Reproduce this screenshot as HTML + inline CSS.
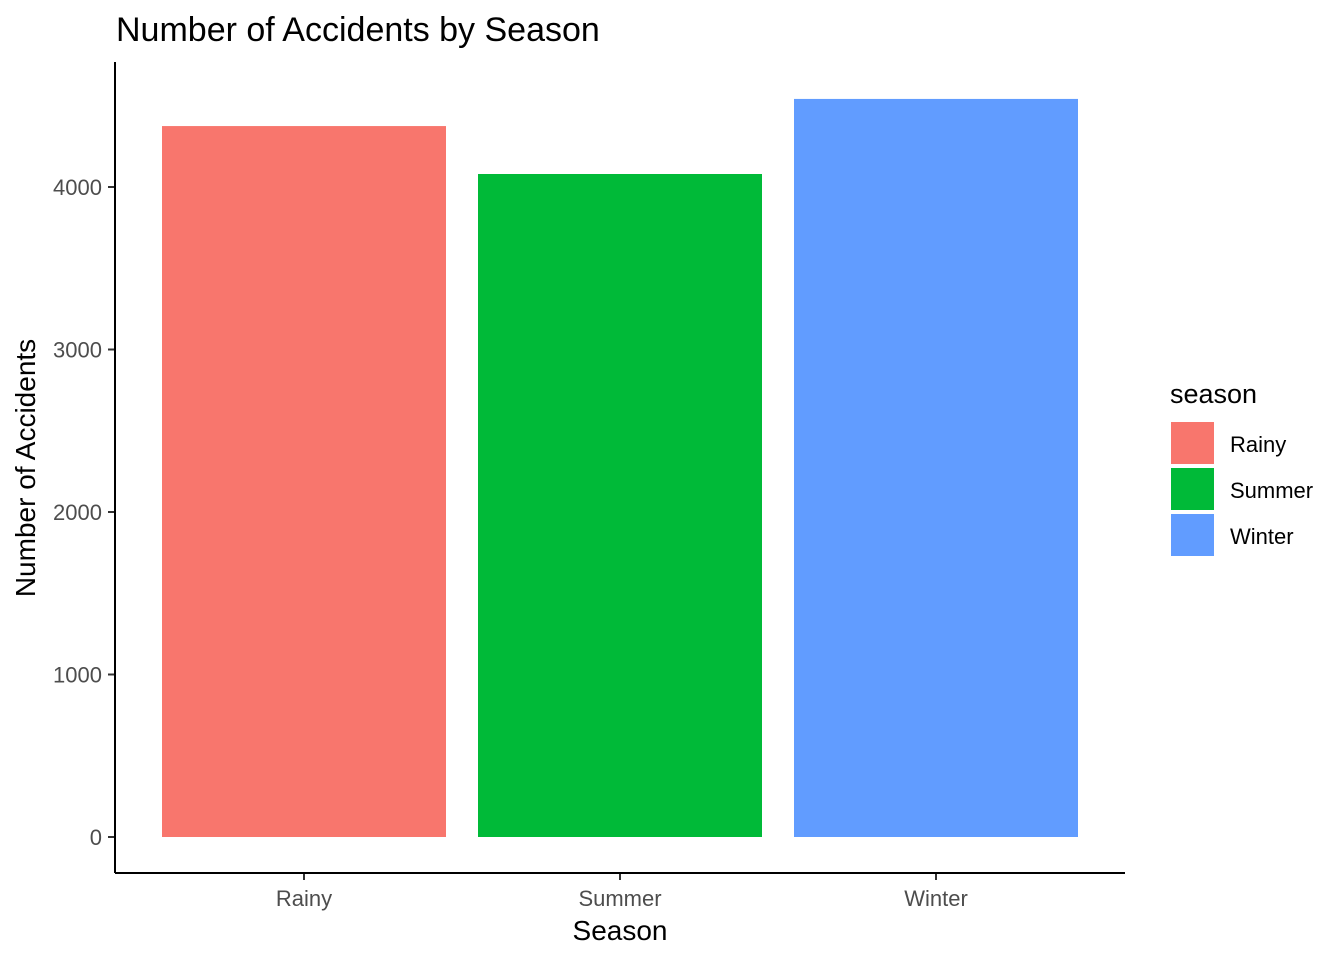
<!DOCTYPE html>
<html><head><meta charset="utf-8"><style>
body{margin:0;background:#fff;}
svg text{font-family:"Liberation Sans",Arial,sans-serif;}
</style></head><body>
<svg id="chart" width="1344" height="960" xmlns="http://www.w3.org/2000/svg">
<rect width="1344" height="960" fill="#fff"/>
<text x="116" y="41" font-size="34" fill="#000">Number of Accidents by Season</text>
<g id="bars"></g>
<g id="yaxis"></g>
<g id="xaxis"></g>
<line x1="115" y1="62" x2="115" y2="873" stroke="#000" stroke-width="2"/>
<line x1="115" y1="873" x2="1125" y2="873" stroke="#000" stroke-width="2"/>
<text x="620" y="940" font-size="28" text-anchor="middle">Season</text>
<text transform="translate(35,468) rotate(-90)" font-size="28" text-anchor="middle">Number of Accidents</text>
<text x="1170" y="403" font-size="27">season</text>
<g id="legend"></g>
</svg>
<script>
const categories=["Rainy","Summer","Winter"];
const values=[4375,4080,4542];
const colors=["#F8766D","#00BA38","#619CFF"];
const yTicks=[0,1000,2000,3000,4000];
const NS="http://www.w3.org/2000/svg";
const y=v=>837-v*0.1625;
const band=316, x0=115+(1125-115-3*band)/2;
const xc=i=>x0+band*(i+0.5);
function mk(t,a,p){const e=document.createElementNS(NS,t);for(const k in a)e.setAttribute(k,a[k]);p.appendChild(e);return e;}
const bars=document.getElementById('bars'),ya=document.getElementById('yaxis'),xa=document.getElementById('xaxis'),lg=document.getElementById('legend');
categories.forEach((c,i)=>{
 const r=mk('rect',{x:xc(i)-142,y:y(values[i]),width:284,height:y(0)-y(values[i]),fill:colors[i]},bars);
 
 
 const t=mk('line',{x1:xc(i),x2:xc(i),y1:873,y2:880,stroke:'#333','stroke-width':2},xa);
 
 
 const l=mk('text',{x:xc(i),y:906,'font-size':22,'text-anchor':'middle',fill:'#4d4d4d'},xa);l.textContent=c;
 
 
 const s=mk('rect',{x:1171,y:422+i*46,width:43,height:42,fill:colors[i]},lg);
 
 
 const lt=mk('text',{x:1230,y:452+i*46,'font-size':22,fill:'#000'},lg);lt.textContent=c;
 
 
});
yTicks.forEach(v=>{
 const t=mk('line',{x1:108,x2:115,y1:y(v),y2:y(v),stroke:'#333','stroke-width':2},ya);
 
 
 const l=mk('text',{x:102,y:y(v)+8,'font-size':22,'text-anchor':'end',fill:'#4d4d4d'},ya);l.textContent=v;
 
 
});
</script>
</body></html>
